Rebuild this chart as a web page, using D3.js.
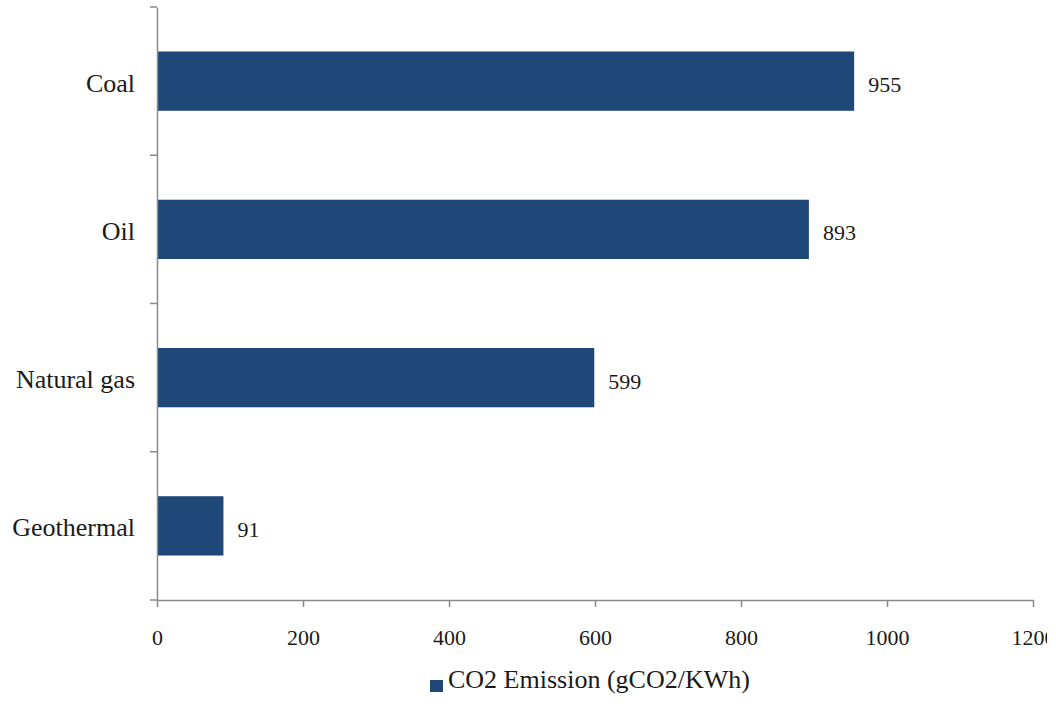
<!DOCTYPE html>
<html>
<head>
<meta charset="utf-8">
<script src="https://cdn.jsdelivr.net/npm/d3@7"></script>
<style>
  html, body { margin: 0; padding: 0; background: #fff; }
  svg { display: block; }
  text { font-family: "Liberation Serif", "Times New Roman", serif; fill: #1a1a1a; }
</style>
</head>
<body>
<script>
// Life-cycle CO2 emissions by generation source
const categories = ["Coal", "Oil", "Natural gas", "Geothermal"];
const emissions = [955, 893, 599, 91];
const xTicks = [0, 200, 400, 600, 800, 1000, 1200];
const seriesName = "CO2 Emission (gCO2/KWh)";

const W = 1056, H = 704;
const plotLeft = 157, plotRight = 1033, plotTop = 7, plotBottom = 600;
const barColor = "#1f4878";
const axisColor = "#8a8a8a";

const svg = d3.select("body").append("svg")
  .attr("width", W).attr("height", H);

// the frame is cropped just past the last tick value
svg.append("clipPath").attr("id", "frame")
  .append("rect").attr("x", 0).attr("y", 0).attr("width", 1047).attr("height", H);
const g = svg.append("g").attr("clip-path", "url(#frame)");

const x = d3.scaleLinear().domain([0, 1200]).range([plotLeft, plotRight]);
const y = d3.scaleBand().domain(categories).range([plotTop, plotBottom]).padding(0);

const barH = y.bandwidth() * 0.4;

// bars
g.selectAll("rect.bar").data(categories).join("rect")
  .attr("class", "bar")
  .attr("x", x(0))
  .attr("y", d => y(d) + (y.bandwidth() - barH) / 2)
  .attr("width", (d, i) => x(emissions[i]) - x(0))
  .attr("height", barH)
  .attr("fill", barColor);

// value labels
g.selectAll("text.val").data(categories).join("text")
  .attr("class", "val")
  .attr("x", (d, i) => x(emissions[i]) + 14)
  .attr("y", d => y(d) + y.bandwidth() / 2)
  .attr("dy", "0.5em")
  .style("font-size", "22px")
  .text((d, i) => emissions[i]);

// x axis
const xAxis = g.append("g").attr("transform", `translate(0,${plotBottom})`)
  .call(d3.axisBottom(x).tickValues(xTicks).tickSize(7).tickSizeOuter(0).tickPadding(0).tickFormat(d3.format("d")));
xAxis.select(".domain").attr("stroke", axisColor).attr("stroke-width", 1.5);
xAxis.selectAll(".tick line").attr("stroke", axisColor).attr("stroke-width", 1.5);
xAxis.selectAll(".tick text")
  .attr("y", 45).attr("dy", 0)
  .style("font-size", "22px").style("font-family", "Liberation Serif, serif").attr("fill", "#1a1a1a");

// y axis: labels centred on bands, tick marks on band boundaries
const yAxis = g.append("g").attr("transform", `translate(${plotLeft},0)`)
  .call(d3.axisLeft(y).tickSize(0).tickSizeOuter(0).tickPadding(22));
yAxis.select(".domain").attr("stroke", axisColor).attr("stroke-width", 1.5);
yAxis.selectAll(".tick text")
  .attr("dy", "0.4em")
  .style("font-size", "26px").style("font-family", "Liberation Serif, serif").attr("fill", "#1a1a1a");

const edges = categories.map(c => y(c)).concat([y.range()[1]]);
yAxis.selectAll("line.edge").data(edges).join("line")
  .attr("class", "edge")
  .attr("x1", -7).attr("x2", 0)
  .attr("y1", d => d).attr("y2", d => d)
  .attr("stroke", axisColor).attr("stroke-width", 1.5);

// legend
const legend = g.append("g").attr("transform", "translate(430,680)");
legend.append("rect").attr("x", 0).attr("y", 0).attr("width", 13).attr("height", 12).attr("fill", barColor);
legend.append("text").attr("x", 18).attr("y", 8)
  .style("font-size", "26px")
  .text(seriesName);
</script>
</body>
</html>
